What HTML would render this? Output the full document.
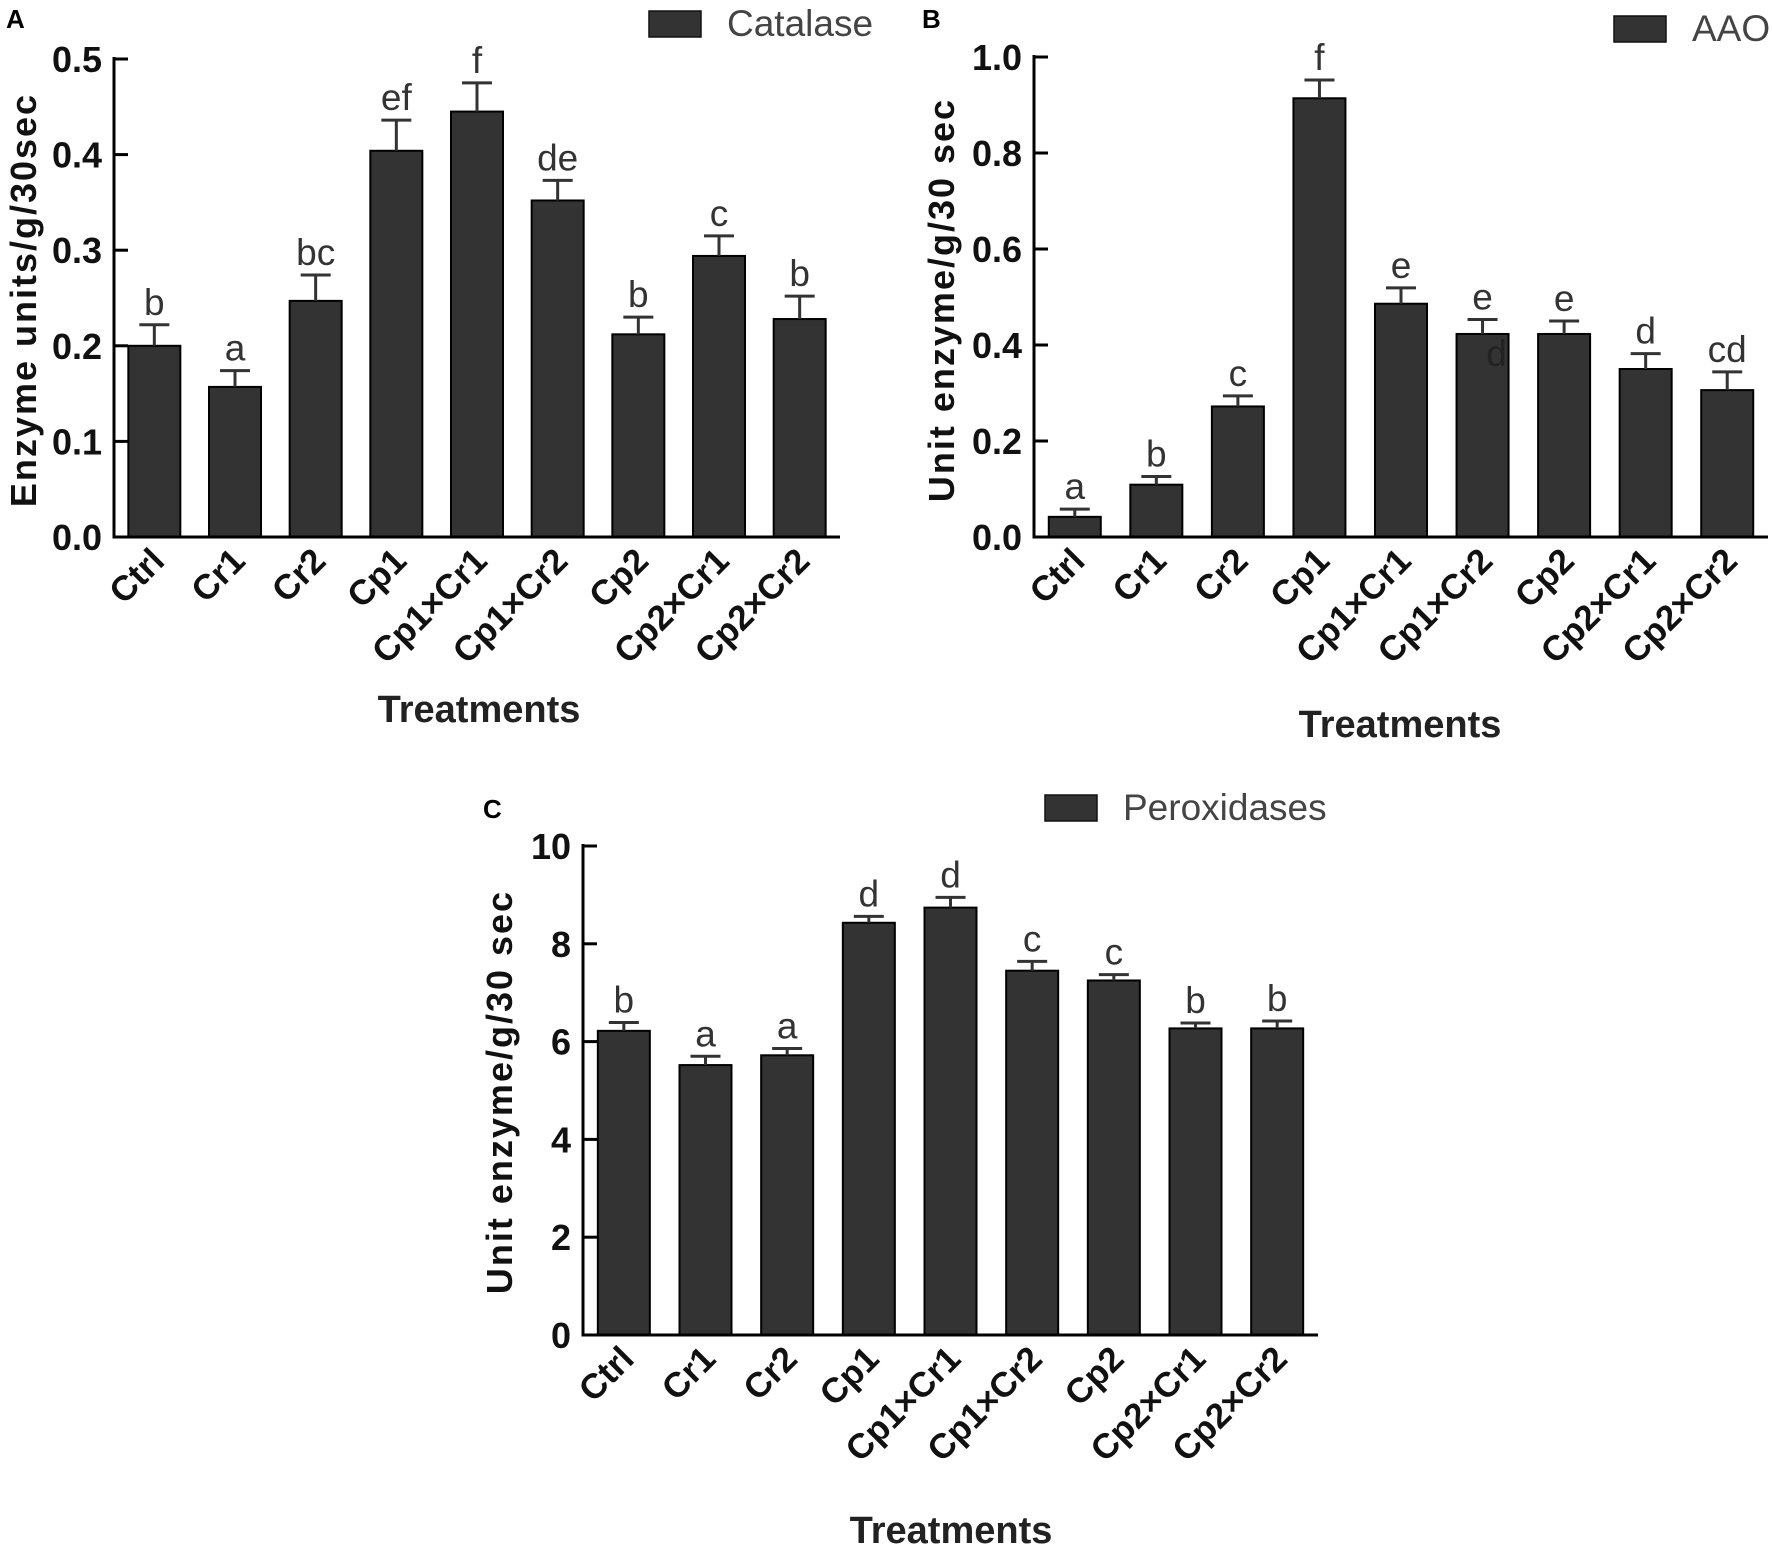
<!DOCTYPE html>
<html><head><meta charset="utf-8"><style>
html,body{margin:0;padding:0;background:#fff;}
svg{display:block;font-family:"Liberation Sans",sans-serif;}
</style></head><body>
<svg id="fig" width="1772" height="1548" viewBox="0 0 1772 1548" xmlns="http://www.w3.org/2000/svg"></svg>
<script>
const categories = ["Ctrl","Cr1","Cr2","Cp1","Cp1×Cr1","Cp1×Cr2","Cp2","Cp2×Cr1","Cp2×Cr2"];

const catalaseValues = [0.200,0.157,0.247,0.404,0.445,0.352,0.212,0.294,0.228];
const catalaseErrors = [0.022,0.017,0.027,0.032,0.030,0.021,0.018,0.021,0.024];
const catalaseLetters = ["b","a","bc","ef","f","de","b","c","b"];
const catalaseTicks = [0,0.1,0.2,0.3,0.4,0.5];
const catalaseTickLabels = ["0.0","0.1","0.2","0.3","0.4","0.5"];

const aaoValues = [0.042,0.109,0.272,0.914,0.486,0.423,0.423,0.350,0.306];
const aaoErrors = [0.016,0.017,0.022,0.038,0.033,0.030,0.027,0.032,0.038];
const aaoLetters = ["a","b","c","f","e","e","e","d","cd"];
const aaoTicks = [0,0.2,0.4,0.6,0.8,1.0];
const aaoTickLabels = ["0.0","0.2","0.4","0.6","0.8","1.0"];

const peroxValues = [6.22,5.52,5.72,8.43,8.74,7.45,7.25,6.27,6.27];
const peroxErrors = [0.17,0.18,0.14,0.13,0.21,0.19,0.12,0.11,0.15];
const peroxLetters = ["b","a","a","d","d","c","c","b","b"];
const peroxTicks = [0,2,4,6,8,10];
const peroxTickLabels = ["0","2","4","6","8","10"];

const NS = "http://www.w3.org/2000/svg";
const svg = document.getElementById("fig");
function mk(tag, attrs, parent, text){
  const e = document.createElementNS(NS, tag);
  for (const k in attrs) e.setAttribute(k, attrs[k]);
  if (text !== undefined) e.textContent = text;
  (parent||svg).appendChild(e);
  return e;
}

function drawPanel(p){
  const g = mk("g", {});
  
  
  const yScale = v => p.y0 - (v - p.vmin) / (p.vmax - p.vmin) * (p.y0 - p.yTop);
  const band = (p.xEnd - p.x0) / categories.length;
  const xCenter = i => p.x0 + band * (i + 0.5);

  const pl = mk("text", {x:p.letterX, y:p.letterY, "font-size":26, "font-weight":"bold", fill:"#000"}, g, p.letter);
  
  

  const lg = mk("g", {}, g);
  
  
  mk("rect", {x:p.legX, y:p.legY, width:52, height:26, fill:"#333", stroke:"#111", "stroke-width":1.5}, lg);
  mk("text", {x:p.legX+78, y:p.legY+25, "font-size":37, fill:"#444"}, lg, p.legText);

  for (let i = 0; i < categories.length; i++){
    const cx = xCenter(i);
    const v = p.values[i], e = p.errors[i];
    const yt = yScale(v), ye = yScale(v + e);
    const bar = mk("rect", {x:cx-26, y:yt, width:52, height:p.y0-yt, fill:"#333", stroke:"#000", "stroke-width":2}, g);
    
    
    const eb = mk("path", {d:`M${cx},${yt} V${ye} M${cx-15},${ye} H${cx+15}`, stroke:"#333", "stroke-width":3, fill:"none"}, g);
    
    
    const lt = mk("text", {x:cx, y:ye-10, "font-size":37, fill:"#333", "text-anchor":"middle"}, g, p.letters[i]);
    
    
    const xl = mk("text", {transform:`translate(${cx+12},${p.y0+26}) rotate(-45)`, "font-size":35, "font-weight":"bold", fill:"#111", "text-anchor":"end"}, g, categories[i]);
    
    
  }

  const ax = mk("path", {d:`M${p.x0},${p.yTop-2} V${p.y0} H${p.xEnd}`, stroke:"#000", "stroke-width":3, fill:"none"}, g);
  
  
  for (let t = 0; t < p.ticks.length; t++){
    const y = yScale(p.ticks[t]);
    mk("line", {x1:p.x0, x2:p.x0+14, y1:y, y2:y, stroke:"#000", "stroke-width":3}, g);
    const tl = mk("text", {x:p.x0-12, y:y+13, "font-size":36, "font-weight":"bold", fill:"#111", "text-anchor":"end"}, g, p.tickLabels[t]);
    
    
  }
  const yt = mk("text", {transform:`translate(${p.yTitleX},${p.yTitleY}) rotate(-90)`, "font-size":36, "font-weight":"bold", fill:"#111", "text-anchor":"middle", "letter-spacing":"2"}, g, p.yTitle);
  
  
  const xt = mk("text", {x:p.xTitleX, y:p.xTitleY, "font-size":38, "font-weight":"bold", fill:"#222", "text-anchor":"middle"}, g, "Treatments");
  
  
  return {yScale, xCenter, g};
}

drawPanel({name:"catalase-chart", letter:"A", letterX:6, letterY:28,
  x0:114, xEnd:840, y0:537, yTop:59, vmin:0, vmax:0.5,
  values:catalaseValues, errors:catalaseErrors, letters:catalaseLetters,
  ticks:catalaseTicks, tickLabels:catalaseTickLabels,
  legX:649, legY:11, legText:"Catalase",
  yTitle:"Enzyme units/g/30sec", yTitleX:36, yTitleY:300,
  xTitleX:479, xTitleY:722});

const pB = drawPanel({name:"aao-chart", letter:"B", letterX:922, letterY:28,
  x0:1034, xEnd:1768, y0:537, yTop:57, vmin:0, vmax:1.0,
  values:aaoValues, errors:aaoErrors, letters:aaoLetters,
  ticks:aaoTicks, tickLabels:aaoTickLabels,
  legX:1614, legY:16, legText:"AAO",
  yTitle:"Unit enzyme/g/30 sec", yTitleX:954, yTitleY:300,
  xTitleX:1400, xTitleY:737});
const extraD = mk("text", {x:pB.xCenter(5)+14, y:pB.yScale(aaoValues[5])+32, "font-size":37, fill:"#222", "text-anchor":"middle"}, pB.g, "d");



drawPanel({name:"peroxidase-chart", letter:"C", letterX:483, letterY:818,
  x0:583, xEnd:1318, y0:1335, yTop:846, vmin:0, vmax:10,
  values:peroxValues, errors:peroxErrors, letters:peroxLetters,
  ticks:peroxTicks, tickLabels:peroxTickLabels,
  legX:1045, legY:795, legText:"Peroxidases",
  yTitle:"Unit enzyme/g/30 sec", yTitleX:512, yTitleY:1092,
  xTitleX:951, xTitleY:1543});
</script>
</body></html>
